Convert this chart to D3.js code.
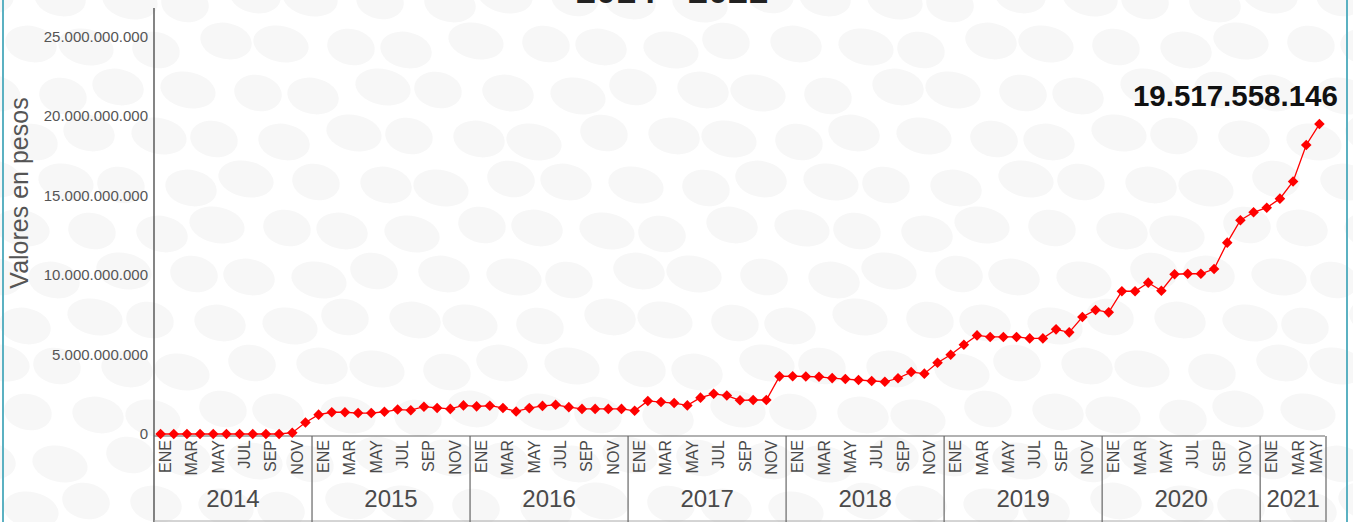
<!DOCTYPE html>
<html>
<head>
<meta charset="utf-8">
<script src="https://cdn.jsdelivr.net/npm/d3@7"></script>
<style>
  body { margin: 0; background: #fff; }
  #container { width: 1353px; height: 522px; position: relative; overflow: hidden; }
  text { font-family: "Liberation Sans", Arial, sans-serif; }
</style>
</head>
<body>
<div id="container"></div>
<script>
var width = 1353;
var height = 522;

// datos (valores en miles de millones de pesos)
var years = ['2014', '2015', '2016', '2017', '2018', '2019', '2020', '2021'];
var monthNames = ['ENE','FEB','MAR','ABR','MAY','JUN','JUL','AGO','SEP','OCT','NOV','DIC'];
var monthsPerYear = [12, 12, 12, 12, 12, 12, 12, 5];
var valores = [
  0, 0, 0, 0, 0, 0, 0, 0, 0, 0, 0.08, 0.72,
  1.22, 1.37, 1.37, 1.32, 1.32, 1.40, 1.54, 1.50, 1.72, 1.64, 1.58, 1.80,
  1.74, 1.78, 1.64, 1.42, 1.63, 1.77, 1.84, 1.69, 1.58, 1.58, 1.58, 1.58,
  1.46, 2.08, 2.01, 1.95, 1.80, 2.29, 2.53, 2.42, 2.12, 2.14, 2.14, 3.63,
  3.64, 3.62, 3.60, 3.52, 3.46, 3.40, 3.34, 3.29, 3.51, 3.90, 3.80, 4.49,
  4.99, 5.62, 6.21, 6.11, 6.11, 6.11, 6.02, 6.02, 6.59, 6.40, 7.37, 7.81,
  7.66, 8.99, 8.99, 9.53, 9.02, 10.06, 10.09, 10.09, 10.39, 12.05, 13.46, 13.96,
  14.25, 14.82, 15.90, 18.20, 19.517558146
];
var yTicks = [0, 5e9, 10e9, 15e9, 20e9, 25e9];
var unidad = 1e9;

var data = [];
years.forEach(function(y, yi){
  for (var m = 0; m < monthsPerYear[yi]; m++){
    data.push({'key': y + '-' + m, 'year': y, 'month': m, 'value': valores[data.length] * unidad});
  }
});

var svg = d3.select('#container')
  .append('svg')
  .attr('width', width)
  .attr('height', height);

// fondo de manchas grises, muy suaves
var bg = svg.append('g');
for (var r = 0; r < 12; r++){
  for (var c = 0; c < 22; c++){
    var ex = c * 64 + (r % 2) * 32 - 10 + ((c * 7 + r * 3) % 5) * 3;
    var ey = r * 46 - 5 + ((c * 5 + r) % 4) * 3;
    bg.append('ellipse')
      .attr('cx', ex)
      .attr('cy', ey)
      .attr('rx', 24 + (c + r) % 3 * 2)
      .attr('ry', 18)
      .attr('transform', 'rotate(12,' + ex + ',' + ey + ')')
      .style('fill', '#f7f7f7');
  }
}

// bordes turquesa
svg.append('rect').attr('x', 2).attr('y', 0).attr('width', 2).attr('height', height).style('fill', '#5bb1c2');
svg.append('rect').attr('x', 1346).attr('y', 0).attr('width', 2).attr('height', height).style('fill', '#5bb1c2');

var x = d3.scaleBand()
  .domain(data.map(function(d){ return d.key; }))
  .range([154, 1326])
  .padding(0);

var y = d3.scaleLinear()
  .domain([0, 25e9])
  .range([434, 37]);

var locale = d3.formatLocale({'decimal': ',', 'thousands': '.', 'grouping': [3], 'currency': ['$', '']});
var fmt = locale.format(',d');

function cx(d){ return x(d.key) + x.bandwidth() / 2; }

// titulo (recortado arriba, como en el original)
svg.append('text')
  .attr('x', 672)
  .attr('y', 3)
  .attr('text-anchor', 'middle')
  .style('font-size', '36px')
  .style('font-weight', 'bold')
  .style('fill', '#222')
  .text('2014 - 2021');

// eje y
svg.append('line')
  .attr('x1', 154).attr('x2', 154)
  .attr('y1', 8).attr('y2', height)
  .style('stroke', '#333').style('stroke-width', 1.2);

svg.selectAll('.y-tick')
  .data(yTicks)
  .enter()
  .append('text')
  .attr('class', 'y-tick')
  .attr('x', 148)
  .attr('y', function(d){ return y(d) + 5; })
  .attr('text-anchor', 'end')
  .style('font-size', '15px')
  .style('fill', '#555')
  .text(function(d){ return fmt(d); });

svg.append('text')
  .attr('transform', 'translate(28,193) rotate(-90)')
  .attr('text-anchor', 'middle')
  .style('font-size', '25px')
  .style('fill', '#555')
  .text('Valores en pesos');

// caja del eje x
var boxTop = 436;
var boxRight = x.range()[1] - 1;
svg.append('line')
  .attr('x1', 154).attr('x2', boxRight)
  .attr('y1', boxTop).attr('y2', boxTop)
  .style('stroke', '#666').style('stroke-width', 1.2);
svg.append('line')
  .attr('x1', 154).attr('x2', boxRight)
  .attr('y1', 521).attr('y2', 521)
  .style('stroke', '#aaa').style('stroke-width', 1);

var yearGroups = years.map(function(yr){
  var ds = data.filter(function(d){ return d.year === yr; });
  return {'year': yr, 'x0': x(ds[0].key), 'x1': x(ds[ds.length - 1].key) + x.bandwidth()};
});

svg.selectAll('.year-sep')
  .data(yearGroups)
  .enter()
  .append('line')
  .attr('class', 'year-sep')
  .attr('x1', function(d){ return d.x1; })
  .attr('x2', function(d){ return d.x1; })
  .attr('y1', boxTop).attr('y2', height)
  .style('stroke', '#666').style('stroke-width', 1.2);

svg.selectAll('.year-label')
  .data(yearGroups)
  .enter()
  .append('text')
  .attr('class', 'year-label')
  .attr('x', function(d){ return (d.x0 + d.x1) / 2; })
  .attr('y', 507)
  .attr('text-anchor', 'middle')
  .style('font-size', '24px')
  .style('fill', '#4a4a4a')
  .text(function(d){ return d.year; });

svg.selectAll('.month-label')
  .data(data.filter(function(d){ return d.month % 2 === 0; }))
  .enter()
  .append('text')
  .attr('class', 'month-label')
  .attr('transform', function(d){
    var lx = Math.min(cx(d) + 10.5, boxRight - 3);
    return 'translate(' + lx + ',440) rotate(-90)';
  })
  .attr('text-anchor', 'end')
  .style('font-size', '16px')
  .style('fill', '#4a4a4a')
  .text(function(d){ return monthNames[d.month]; });

// linea y puntos
var line = d3.line()
  .x(cx)
  .y(function(d){ return y(d.value); });

svg.append('path')
  .datum(data)
  .attr('d', line)
  .style('fill', 'none')
  .style('stroke', '#ff0000')
  .style('stroke-width', 1.3);

var diamond = d3.symbol().type(d3.symbolSquare).size(56);
svg.selectAll('.punto')
  .data(data)
  .enter()
  .append('path')
  .attr('class', 'punto')
  .attr('d', diamond)
  .attr('transform', function(d){ return 'translate(' + cx(d) + ',' + y(d.value) + ') rotate(45)'; })
  .style('fill', '#ff0000');

// ultimo valor
var last = data[data.length - 1];
svg.append('text')
  .attr('x', cx(last) - 84)
  .attr('y', y(last.value) - 18)
  .attr('text-anchor', 'middle')
  .style('font-size', '29.5px')
  .style('font-weight', 'bold')
  .style('fill', '#111')
  .text(fmt(Math.round(last.value)));
</script>
</body>
</html>
